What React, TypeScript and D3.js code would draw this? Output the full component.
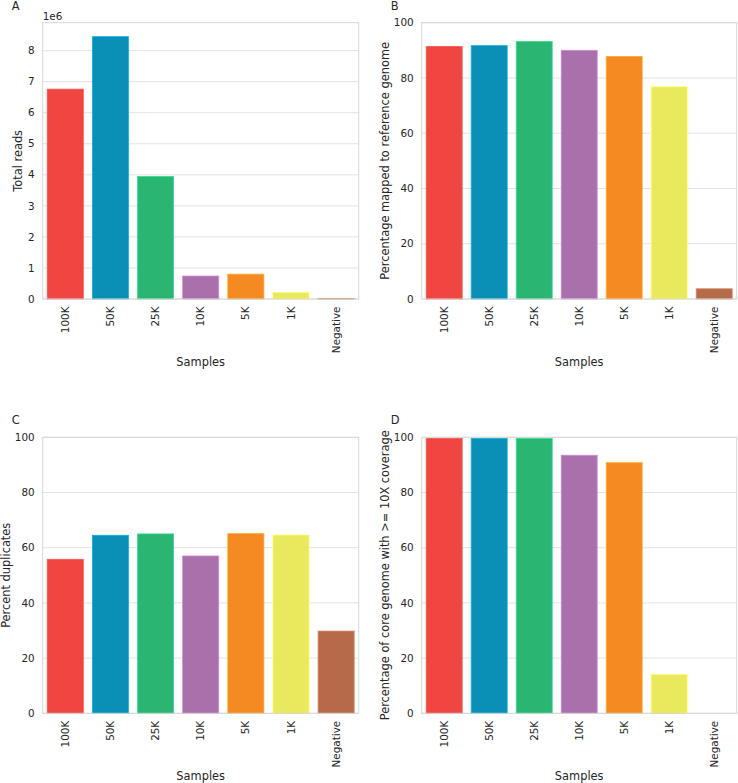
import React from "react";
import * as d3 from "d3";

const samples = ["100K", "50K", "25K", "10K", "5K", "1K", "Negative"];
const colors = ["#ef4641", "#0a8fb7", "#2ab573", "#a970ac", "#f68a22", "#eae85c", "#b56b4a"];
const totalReads = [6.76e6, 8.45e6, 3.95e6, 0.74e6, 0.8e6, 0.21e6, 0.02e6];
const pctMapped = [91.4, 91.7, 93.2, 90.0, 87.8, 76.8, 3.7];
const pctDuplicates = [55.8, 64.5, 65.0, 57.0, 65.1, 64.6, 29.8];
const pctCoverage = [99.6, 99.6, 99.6, 93.5, 90.8, 14.1, 0];
const readsTicks = [0, 1, 2, 3, 4, 5, 6, 7, 8];
const pctTicks = [0, 20, 40, 60, 80, 100];

type Panel = {
  letter: string;
  values: number[];
  yMax: number;
  ticks: number[];
  tickScale: number;
  ylabel: string;
  left: number;
  right: number;
  top: number;
  bottom: number;
  ylabelX: number;
  offsetText?: string;
};

const panels: Panel[] = [
  { letter: "A", values: totalReads, yMax: 8.9e6, ticks: readsTicks, tickScale: 1e6, ylabel: "Total reads",
    left: 42.7, right: 358.7, top: 22.7, bottom: 299, ylabelX: 22, offsetText: "1e6" },
  { letter: "B", values: pctMapped, yMax: 100, ticks: pctTicks, tickScale: 1, ylabel: "Percentage mapped to reference genome",
    left: 421.7, right: 736.7, top: 22.7, bottom: 299, ylabelX: 389 },
  { letter: "C", values: pctDuplicates, yMax: 100, ticks: pctTicks, tickScale: 1, ylabel: "Percent duplicates",
    left: 42.7, right: 358.7, top: 437.3, bottom: 713.3, ylabelX: 10 },
  { letter: "D", values: pctCoverage, yMax: 100, ticks: pctTicks, tickScale: 1, ylabel: "Percentage of core genome with >= 10X coverage",
    left: 421.7, right: 736.7, top: 437.3, bottom: 713.3, ylabelX: 389 },
];

const FONT = "DejaVu Sans, sans-serif";
const TXT = "#262626";
const TICK_FS = 10.4;
const LABEL_FS = 11.4;

function PanelView({ p }: { p: Panel }) {
  const x = d3.scaleBand<string>().domain(samples).range([p.left, p.right]).paddingInner(0.2).paddingOuter(0.1);
  const y = d3.scaleLinear().domain([0, p.yMax]).range([p.bottom, p.top]);
  const cx = (p.left + p.right) / 2;
  const cy = (p.top + p.bottom) / 2;
  return (
    <g>
      {p.ticks.map((t) => (
        <line key={"g" + t} x1={p.left} x2={p.right} y1={y(t * p.tickScale)} y2={y(t * p.tickScale)} stroke="#e3e3e3" strokeWidth={1} />
      ))}
      {p.values.map((v, i) => (
        <rect key={i} x={x(samples[i])} y={y(v)} width={x.bandwidth()} height={Math.max(0, p.bottom - y(v))}
          fill={colors[i]} stroke={d3.color(colors[i])!.brighter(0.6).formatHex()} strokeWidth={0.8} />
      ))}
      <rect x={p.left} y={p.top} width={p.right - p.left} height={p.bottom - p.top} fill="none" stroke="#d6d6d6" strokeWidth={1} />
      {p.ticks.map((t) => (
        <text key={"t" + t} x={p.left - 8} y={y(t * p.tickScale)} dy="0.35em" textAnchor="end" fontSize={TICK_FS} fill={TXT} fontFamily={FONT}>
          {t}
        </text>
      ))}
      {samples.map((s) => (
        <text key={s} transform={`translate(${x(s)! + x.bandwidth() / 2},${p.bottom + 7.5}) rotate(-90)`} dy="0.35em"
          textAnchor="end" fontSize={TICK_FS} fill={TXT} fontFamily={FONT}>
          {s}
        </text>
      ))}
      <text x={cx} y={p.bottom + 67} textAnchor="middle" fontSize={LABEL_FS} fill={TXT} fontFamily={FONT}>Samples</text>
      <text transform={`translate(${p.ylabelX},${cy}) rotate(-90)`} textAnchor="middle" fontSize={LABEL_FS} fill={TXT} fontFamily={FONT}>
        {p.ylabel}
      </text>
      {p.offsetText && (
        <text x={p.left} y={p.top - 3} fontSize={TICK_FS} fill={TXT} fontFamily={FONT}>{p.offsetText}</text>
      )}
      <text x={p.left - 31} y={p.top - 13} fontSize={LABEL_FS} fill={TXT} fontFamily={FONT}>{p.letter}</text>
    </g>
  );
}

export default function App() {
  return (
    <div style={{ position: "absolute", left: 0, top: 0 }}>
      <svg width={738} height={783} style={{ display: "block", background: "#fff" }}>
        {panels.map((p) => (
          <PanelView key={p.letter} p={p} />
        ))}
      </svg>
    </div>
  );
}
